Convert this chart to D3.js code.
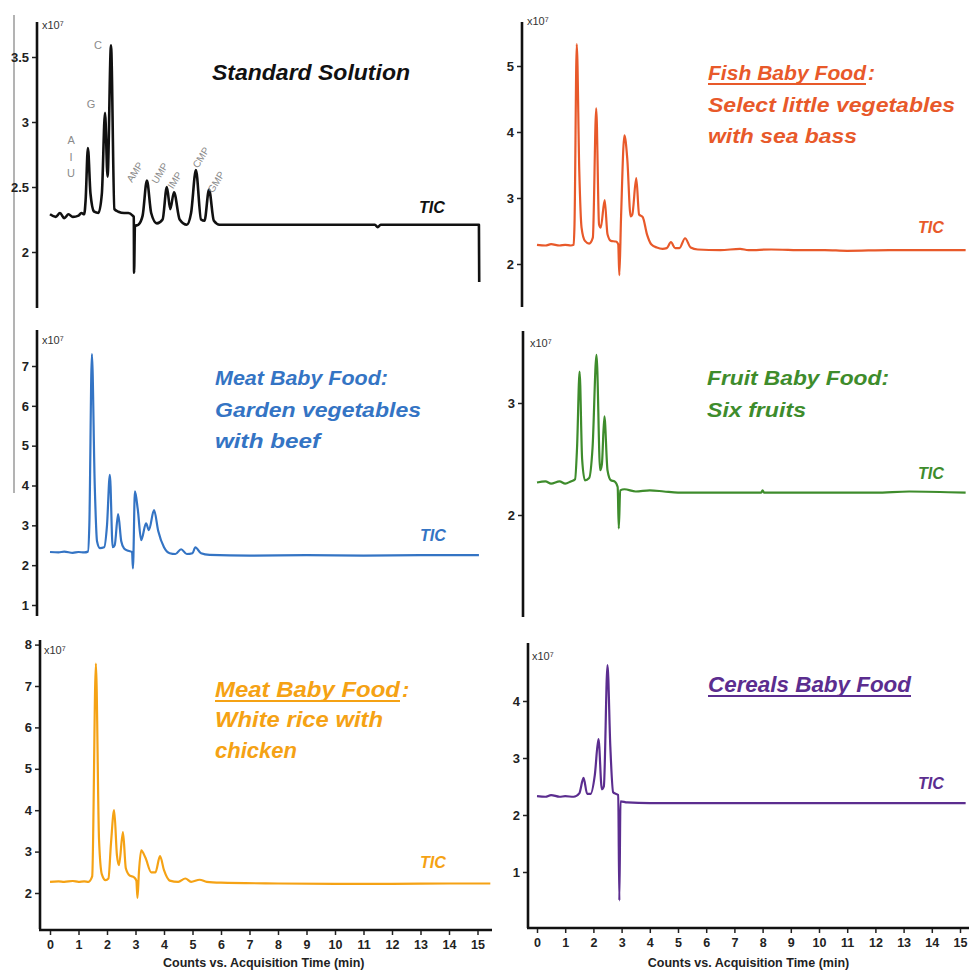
<!DOCTYPE html>
<html>
<head>
<meta charset="utf-8">
<script src="https://cdn.jsdelivr.net/npm/d3@7"></script>
<style>
  html, body { margin: 0; padding: 0; background: #ffffff; }
  svg { display: block; }
  .tick text { font-family: "Liberation Sans", Arial, sans-serif; font-weight: bold; }
</style>
</head>
<body>
<script>
// ---- Retention time axis (min) ----
const timeTicks = [0, 1, 2, 3, 4, 5, 6, 7, 8, 9, 10, 11, 12, 13, 14, 15];
const timeAxisTitle = "Counts vs. Acquisition Time (min)";
const scaleLabel = "x10\u2077";

// ---- Total ion chromatograms, [time (min), counts x10^7] ----
const standardTIC = [
  [0, 2.29], [0.2, 2.27], [0.35, 2.3], [0.5, 2.26], [0.65, 2.29], [0.8, 2.27], [1.0, 2.28], [1.1, 2.3], [1.2, 2.29],
  [1.25, 2.4], [1.33, 2.8], [1.42, 2.45], [1.55, 2.31], [1.7, 2.3], [1.82, 2.45], [1.93, 3.07], [2.02, 2.58],
  [2.14, 3.59], [2.26, 2.33], [2.4, 2.31], [2.6, 2.3], [2.75, 2.3], [2.9, 2.28], [2.94, 2.27], [2.95, 1.84],
  [2.98, 2.2], [3.1, 2.21], [3.25, 2.28], [3.4, 2.55], [3.55, 2.3], [3.75, 2.22], [3.95, 2.25], [4.1, 2.5],
  [4.22, 2.33], [4.35, 2.46], [4.55, 2.25], [4.8, 2.21], [4.95, 2.3], [5.12, 2.63], [5.3, 2.25], [5.42, 2.24],
  [5.58, 2.48], [5.75, 2.24], [5.95, 2.21], [7, 2.21], [9, 2.21], [11.4, 2.21], [11.5, 2.19], [11.6, 2.21],
  [13, 2.21], [15.05, 2.21], [15.06, 1.77]
];
const fishTIC = [
  [0, 2.29], [0.3, 2.28], [0.5, 2.3], [0.8, 2.28], [1.0, 2.29], [1.2, 2.28], [1.3, 2.29], [1.33, 2.6], [1.41, 5.33],
  [1.5, 3.4], [1.58, 2.55], [1.7, 2.35], [1.85, 2.31], [1.98, 2.4], [2.1, 4.36], [2.2, 2.6], [2.26, 2.55],
  [2.4, 2.97], [2.5, 2.45], [2.62, 2.35], [2.8, 2.34], [2.88, 2.3], [2.92, 1.83], [2.98, 2.7], [3.1, 3.95],
  [3.2, 3.6], [3.32, 2.72], [3.38, 2.75], [3.52, 3.3], [3.62, 2.75], [3.75, 2.71], [3.9, 2.45], [4.05, 2.3],
  [4.25, 2.25], [4.45, 2.23], [4.6, 2.24], [4.75, 2.33], [4.9, 2.24], [5.05, 2.24], [5.25, 2.39], [5.45, 2.25],
  [5.7, 2.22], [6.5, 2.21], [7.2, 2.23], [7.5, 2.21], [8.3, 2.22], [9.5, 2.21], [10.2, 2.21], [11.0, 2.2],
  [12.5, 2.21], [15.2, 2.21]
];
const beefTIC = [
  [0, 2.33], [0.3, 2.32], [0.5, 2.34], [0.8, 2.31], [1.0, 2.33], [1.2, 2.32], [1.33, 2.34], [1.38, 3.0], [1.47, 7.3],
  [1.57, 4.0], [1.65, 2.6], [1.75, 2.43], [1.9, 2.45], [2.0, 3.0], [2.1, 4.27], [2.2, 2.45], [2.27, 2.5],
  [2.39, 3.28], [2.5, 2.6], [2.6, 2.42], [2.75, 2.36], [2.88, 2.33], [2.91, 1.92], [2.98, 3.85], [3.08, 3.4],
  [3.2, 2.63], [3.37, 3.05], [3.47, 2.88], [3.65, 3.38], [3.8, 2.85], [4.0, 2.45], [4.2, 2.3], [4.4, 2.28],
  [4.6, 2.4], [4.8, 2.28], [5.0, 2.3], [5.1, 2.45], [5.3, 2.3], [5.6, 2.26], [7, 2.24], [9, 2.25], [11, 2.24],
  [13, 2.25], [15.05, 2.25]
];
const fruitTIC = [
  [0, 2.29], [0.3, 2.3], [0.5, 2.28], [0.8, 2.3], [1.0, 2.28], [1.2, 2.3], [1.35, 2.32], [1.42, 2.6], [1.51, 3.28],
  [1.6, 2.5], [1.7, 2.31], [1.85, 2.33], [1.97, 2.6], [2.11, 3.43], [2.24, 2.4], [2.3, 2.45], [2.39, 2.88],
  [2.5, 2.4], [2.62, 2.31], [2.75, 2.3], [2.86, 2.25], [2.9, 1.88], [2.95, 2.22], [3.1, 2.23], [3.5, 2.21],
  [4, 2.22], [4.5, 2.21], [5, 2.2], [6, 2.2], [7, 2.2], [7.95, 2.2], [8.0, 2.22], [8.05, 2.2], [10, 2.2],
  [12, 2.2], [13.2, 2.21], [15.2, 2.2]
];
const chickenTIC = [
  [0, 2.27], [0.3, 2.28], [0.5, 2.27], [0.8, 2.29], [1.0, 2.27], [1.2, 2.28], [1.35, 2.27], [1.48, 2.4], [1.61, 7.54],
  [1.72, 3.3], [1.82, 2.45], [1.95, 2.31], [2.05, 2.35], [2.14, 3.2], [2.25, 4.0], [2.35, 2.9], [2.42, 2.67],
  [2.56, 3.47], [2.66, 2.6], [2.8, 2.42], [2.95, 2.38], [3.03, 2.3], [3.07, 1.88], [3.12, 2.5], [3.2, 3.03],
  [3.35, 2.85], [3.55, 2.5], [3.7, 2.5], [3.86, 2.89], [4.0, 2.55], [4.2, 2.3], [4.5, 2.27], [4.75, 2.35],
  [4.95, 2.27], [5.25, 2.32], [5.5, 2.27], [6, 2.25], [8, 2.23], [10, 2.22], [12, 2.22], [14, 2.23], [15.45, 2.23]
];
const cerealsTIC = [
  [0, 2.33], [0.3, 2.32], [0.5, 2.35], [0.8, 2.32], [1.0, 2.33], [1.3, 2.32], [1.5, 2.38], [1.65, 2.65],
  [1.78, 2.37], [1.9, 2.37], [2.05, 2.7], [2.18, 3.33], [2.3, 2.45], [2.37, 2.5], [2.5, 4.63], [2.6, 3.2],
  [2.7, 2.4], [2.8, 2.37], [2.88, 2.35], [2.92, 0.5], [2.96, 2.24], [3.2, 2.22], [4, 2.21], [5, 2.21],
  [6, 2.21], [8, 2.21], [10, 2.21], [12, 2.21], [15.2, 2.21]
];

// ---- Y tick values per panel ----
const standardTicks = [2, 2.5, 3, 3.5];
const fishTicks = [2, 3, 4, 5];
const beefTicks = [1, 2, 3, 4, 5, 6, 7];
const fruitTicks = [2, 3];
const chickenTicks = [2, 3, 4, 5, 6, 7, 8];
const cerealsTicks = [1, 2, 3, 4];

// ---- Panel titles ----
const standardTitle = ["Standard Solution"];
const fishTitle = ["Fish Baby Food", "Select little vegetables", "with sea bass"];
const beefTitle = ["Meat Baby Food:", "Garden vegetables", "with beef"];
const fruitTitle = ["Fruit Baby Food:", "Six fruits"];
const chickenTitle = ["Meat Baby Food", "White rice with", "chicken"];
const cerealsTitle = ["Cereals Baby Food"];

// ---- Nucleoside / nucleotide peak annotations on the standard run ----
const nucleosideLabels = [
  { name: "A", t: 0.74, v: 2.86 }, { name: "I", t: 0.74, v: 2.73 }, { name: "U", t: 0.74, v: 2.61 },
  { name: "G", t: 1.44, v: 3.14 }, { name: "C", t: 1.68, v: 3.59 }
];
const nucleotideLabels = [
  { name: "AMP", t: 2.88, v: 2.53 }, { name: "UMP", t: 3.75, v: 2.52 }, { name: "IMP", t: 4.32, v: 2.48 },
  { name: "CMP", t: 5.19, v: 2.64 }, { name: "GMP", t: 5.72, v: 2.45 }
];

// ---- Layout ----
const W = 969, H = 972;
const svg = d3.select("body").append("svg").attr("width", W).attr("height", H)
  .attr("font-family", "'Liberation Sans', Arial, sans-serif");

const xLeft = d3.scaleLinear().domain([0, 15]).range([50, 477.5]);
const xRight = d3.scaleLinear().domain([0, 15]).range([537, 960]);

const titleFont = "'Liberation Sans', Arial, sans-serif";

const panels = [
  { series: standardTIC, ticks: standardTicks, x: xLeft, axisX: 37, top: 22, bottom: 308,
    dom: [2, 3.5], rng: [252, 57], color: "#111111", width: 2.6, fmt: d3.format(".1~f"),
    title: standardTitle, titleX: 212, titleY: [80], titleW: [198], fs: 22, underline: false, titleColor: "#111111",
    tic: [419, 213], sx: [42, 29] },
  { series: fishTIC, ticks: fishTicks, x: xRight, axisX: 522, top: 22, bottom: 307,
    dom: [2, 5], rng: [264, 66], color: "#E8592A", width: 2.2, fmt: d3.format("d"),
    title: fishTitle, titleX: 708, titleY: [80, 112, 143], titleW: [158, 247, 149], fs: 21, underline: true, colon: true,
    titleColor: "#E8592A", tic: [918, 233], sx: [527, 25] },
  { series: beefTIC, ticks: beefTicks, x: xLeft, axisX: 37, top: 330, bottom: 616,
    dom: [1, 7], rng: [605, 366], color: "#3474C4", width: 2.2, fmt: d3.format("d"),
    title: beefTitle, titleX: 215, titleY: [385, 417, 448], titleW: [173, 206, 105], fs: 21, underline: false,
    titleColor: "#3474C4", tic: [420, 541], sx: [42, 344] },
  { series: fruitTIC, ticks: fruitTicks, x: xRight, axisX: 523, top: 331, bottom: 617,
    dom: [2, 3], rng: [515, 403], color: "#3E8C2C", width: 2.2, fmt: d3.format("d"),
    title: fruitTitle, titleX: 707, titleY: [385, 417], titleW: [182, 99], fs: 21, underline: false,
    titleColor: "#3E8C2C", tic: [918, 479], sx: [530, 347] },
  { series: chickenTIC, ticks: chickenTicks, x: xLeft, axisX: 40, top: 640, bottom: 929,
    dom: [2, 7], rng: [893, 686], color: "#F5A214", width: 2.2, fmt: d3.format("d"),
    title: chickenTitle, titleX: 215, titleY: [697, 727, 758], titleW: [185, 168, 82], fs: 22, underline: true, colon: true,
    titleColor: "#F5A214", tic: [420, 868], sx: [44, 654], xAxisY: 930, xAxisEnd: 492 },
  { series: cerealsTIC, ticks: cerealsTicks, x: xRight, axisX: 528, top: 643, bottom: 928,
    dom: [1, 4], rng: [872, 701], color: "#5B2D8F", width: 2.2, fmt: d3.format("d"),
    title: cerealsTitle, titleX: 708, titleY: [692], titleW: [203], fs: 22, underline: true, colon: false,
    titleColor: "#5B2D8F", tic: [918, 789], sx: [532, 660], xAxisY: 928, xAxisEnd: 969 }
];

// thin grey frame edge running down the left side
svg.append("line").attr("x1", 14).attr("x2", 14).attr("y1", 15).attr("y2", 493)
  .attr("stroke", "#9a9a9a").attr("stroke-width", 1.5);

panels.forEach(p => {
  const g = svg.append("g");
  const y = d3.scaleLinear().domain(p.dom).range(p.rng);

  // y axis: full-height spine plus labelled ticks
  g.append("line").attr("x1", p.axisX).attr("x2", p.axisX).attr("y1", p.top).attr("y2", p.bottom)
    .attr("stroke", "#111").attr("stroke-width", 2.6);
  const yAxis = g.append("g").attr("transform", `translate(${p.axisX - 1},0)`)
    .call(d3.axisLeft(y).tickValues(p.ticks).tickSize(4).tickPadding(3).tickFormat(p.fmt));
  yAxis.select(".domain").remove();
  yAxis.selectAll(".tick line").attr("stroke", "#222").attr("stroke-width", 1.5);
  yAxis.selectAll(".tick text").attr("font-size", 13).attr("fill", "#222");

  // scale factor label
  g.append("text").attr("x", p.sx[0]).attr("y", p.sx[1]).attr("font-size", 11).attr("fill", "#333")
    .text(scaleLabel);

  // chromatogram trace
  const line = d3.line().x(d => p.x(d[0])).y(d => y(d[1])).curve(d3.curveMonotoneX);
  g.append("path").datum(p.series).attr("d", line).attr("fill", "none")
    .attr("stroke", p.color).attr("stroke-width", p.width).attr("stroke-linejoin", "round");

  // x axis for the bottom row
  if (p.xAxisY) {
    g.append("line").attr("x1", p.axisX - 1).attr("x2", p.xAxisEnd).attr("y1", p.xAxisY).attr("y2", p.xAxisY)
      .attr("stroke", "#111").attr("stroke-width", 2.6);
    const xAxis = g.append("g").attr("transform", `translate(0,${p.xAxisY + 1})`)
      .call(d3.axisBottom(p.x).tickValues(timeTicks).tickSize(4).tickPadding(5).tickFormat(d3.format("d")));
    xAxis.select(".domain").remove();
    xAxis.selectAll(".tick line").attr("stroke", "#222").attr("stroke-width", 1.5);
    xAxis.selectAll(".tick text").attr("font-size", 12.5).attr("fill", "#222");
    g.append("text").attr("x", p.x(7.5)).attr("y", 967).attr("text-anchor", "middle")
      .attr("font-size", 12.5).attr("font-weight", "bold").attr("fill", "#222").text(timeAxisTitle);
  }

  // title block
  p.title.forEach((s, i) => {
    g.append("text").attr("x", p.titleX).attr("y", p.titleY[i])
      .attr("font-family", titleFont).attr("font-size", p.fs).attr("font-weight", "bold").attr("font-style", "italic")
      .attr("fill", p.titleColor)
      .attr("textLength", p.titleW[i]).attr("lengthAdjust", "spacingAndGlyphs")
      .text(s);
    if (i === 0 && p.underline) {
      g.append("line").attr("x1", p.titleX).attr("x2", p.titleX + p.titleW[0])
        .attr("y1", p.titleY[0] + 4).attr("y2", p.titleY[0] + 4)
        .attr("stroke", p.titleColor).attr("stroke-width", 1.8);
      if (p.colon) {
        g.append("text").attr("x", p.titleX + p.titleW[0] + 2).attr("y", p.titleY[0])
          .attr("font-family", titleFont).attr("font-size", p.fs).attr("font-weight", "bold").attr("font-style", "italic")
          .attr("fill", p.titleColor).text(":");
      }
    }
  });

  // TIC tag
  g.append("text").attr("x", p.tic[0]).attr("y", p.tic[1])
    .attr("font-size", 16).attr("font-weight", "bold").attr("font-style", "italic")
    .attr("fill", p.titleColor).attr("textLength", 26).attr("lengthAdjust", "spacingAndGlyphs").text("TIC");

  // peak annotations on the standard solution
  if (p.series === standardTIC) {
    g.selectAll(".nuc").data(nucleosideLabels).join("text")
      .attr("x", d => p.x(d.t)).attr("y", d => y(d.v)).attr("dy", "0.35em")
      .attr("text-anchor", "middle").attr("font-size", 11).attr("fill", "#8a8a8a").text(d => d.name);
    g.selectAll(".nmp").data(nucleotideLabels).join("text")
      .attr("transform", d => `translate(${p.x(d.t)},${y(d.v)}) rotate(-58)`)
      .attr("font-size", 10).attr("fill", "#8a8a8a").text(d => d.name);
  }
});
</script>
</body>
</html>
